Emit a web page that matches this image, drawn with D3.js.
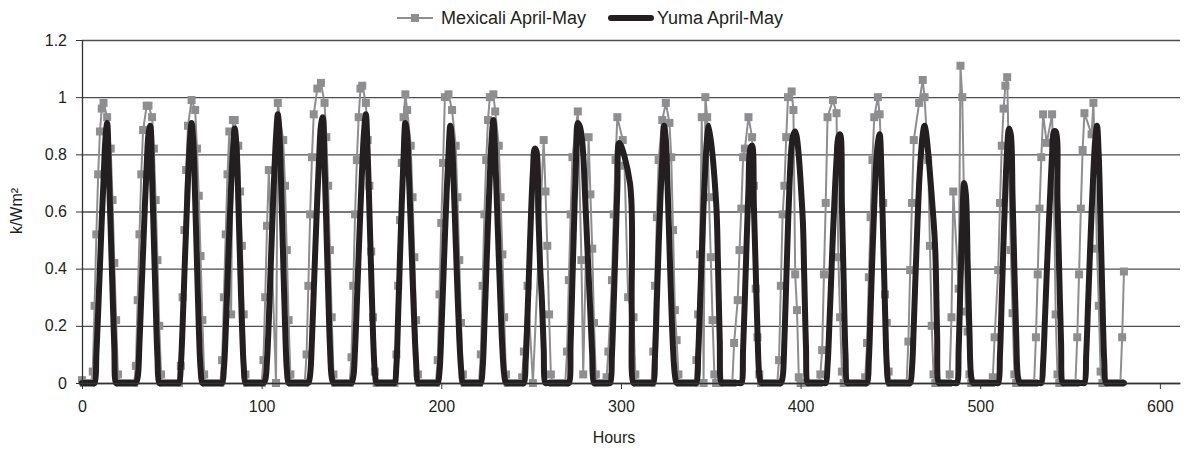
<!DOCTYPE html>
<html>
<head>
<meta charset="utf-8">
<script src="https://cdn.jsdelivr.net/npm/d3@7"></script>
<style>
  body { margin: 0; background: #fff; }
  text { font-family: "Liberation Sans", Arial, sans-serif; fill: #231f20; }
</style>
</head>
<body>
<div id="chart"></div>
<script>
// legend names
var seriesNames = ["Mexicali April-May", "Yuma April-May"];

// axis ticks
var xTicks = [0, 100, 200, 300, 400, 500, 600];
var yTicks = [0, 0.2, 0.4, 0.6, 0.8, 1, 1.2];
var yTickLabels = ["0", "0.2", "0.4", "0.6", "0.8", "1", "1.2"];

// Mexicali readings, one row of 24 hours per day (null = no reading)
var mexicali = [
  [0.01,0,0,0,0,0, 0.04,0.27,0.52,0.73,0.88,0.96, 0.98,null,0.93,null, 0.82,0.64,0.42,0.22,0.03, 0,0,0],
  [0,0,0,0,0,0, 0.06,0.29,0.52,0.73,0.885, null,0.97,0.97,null,0.93, 0.82,0.64,0.43,0.20,0.03, 0,0,0],
  [0,0,0,0,0,0,0, 0.06,0.30,0.535,0.745,0.90, null,0.99,null,0.955, 0.82,0.655,0.444,0.22,0.03, 0,0,0],
  [0,0,0,0,0,0, 0.08,0.30,0.52,0.73,0.88, 0.24, 0.92,0.92, null, 0.83,0.67,0.48,0.24,0.03, 0,0,0,0],
  [0,0,0,0,0, 0.08,0.30,0.55,0.745, null,null,null, 0, 0.98, null,null, 0.85,0.69,0.465,0.22,0.03, 0,0,0],
  [0,0,0,0,0, 0.10,0.34,0.59,0.79,0.94, null,1.03,null,1.05,null,0.98, 0.86,0.69,0.465,0.23,0.03, 0,0,0],
  [0,0,0,0,0,0, 0.09,0.34,0.59,0.78,0.93, 1.03,1.04,null,0.98, 0.85,0.69,0.46,0.23,0.04, 0,0,0,0],
  [0,0,0,0,0,0,0, 0.10,0.34,0.57,0.77,0.93, 1.01,0.955,null, 0.83,0.65,0.44,0.22,0.03, 0,0,0,0],
  [0,0,0,0,0,0, 0.08,0.31,0.56,0.77,1.0, null,1.01,null,0.955,null, 0.83,0.65,0.43,0.21,0.03, 0,0,0],
  [0,0,0,0,0,0, 0.10,0.34,0.59,0.78,0.92, 1.0,null,1.01,0.95,null, 0.83,0.65,0.45,0.23,0.03, 0,0,0],
  [0,0,0,0,0, 0.02,0.11,null,0.34,null,null, 0, null,null,null,null,null, 0.85,0.67,0.48,0.24,0.03, 0,0],
  [0,0,0,0,0,0, 0.11,0.36,0.59,0.79, null,null, 0.95, null, 0.43,0.03, null,null, 0.86,0.66,0.47,0.21,0.03, 0],
  [0,0,0,0, 0.02,0.11,null,0.36,0.59,0.78,0.93, null,null, 0.85,0.76, null, 0.30, null,null, 0.23,0.03, 0,0,0],
  [0,0,0,0,0,0, 0.11,0.34,0.58,0.78, null,0.92,null,0.98,null,0.91, 0.79,0.535,0.255,0.15,0.03, 0,0,0],
  [0,0,0,0,0,0, 0.08,0.24,0.45,0.93, 0, 1.0,0.93,0.65,0.44,0.22,0.03, 0,0,0,0,0,0,0],
  [0,0,0, 0.14,null,0.29,0.465,0.61,0.79,0.82, null,0.93,null,0.86, 0.69,0.33,0.16,0.03, 0,0,0,0,0,0],
  [0,0,0,0, 0.08,0.34,0.59,0.69,0.86,1.0, null,1.02,0.955, 0.38,0.255,0.02, 0,0,0,0,0,0,0,0],
  [0,0,0, 0.03,0.115,0.38,0.63,0.93, null,null, 0.99, null, 0.944, 0.44,0.23,0.04, 0,0,0,0,0,0,0,0],
  [0,0,0,0, 0.02,0.14,0.37,0.58,0.78,0.93, null,1.0,0.94,null, 0.63,0.31,0.21,0.04, 0,0,0,0,0,0],
  [0,0,0,0, 0.145,0.395,0.63,0.85, null,null, 0.98, null, 1.06,1.0, null, 0.78,0.48,0.2,0.03, 0,0,0,0,0],
  [0,0,0, 0.03,0.23,0.67, null,null, 0.33,1.11,1.0, null, 0.25,0.18,0.03, 0,0,0,0,0,0,0,0,0],
  [0,0,0, 0.02,0.16,null,0.395,0.63,0.83,0.96,1.04,1.07, null, 0.465,0.244,0.03, 0,0,0,0,0,0,0,0],
  [0,0,0, 0.16,0.38,0.61,0.79,0.94, null, 0.84, null,null, 0.94,0.67,0.24,0.03, 0,0,0,0,0,0,0,0],
  [0,0, 0.16,0.38,0.61,0.815,0.944, null,null,null, 0.87,0.98, null, 0.47,0.27,0.04, 0,0,0,0,0,0,0,0],
  [0,0,0,0.16,0.39]
].flat();

// Yuma readings, one row of 24 hours per day (null = no reading)
var yuma = [
  [0,0,0,0,0,0,0,0, 0.1,0.25,0.41,0.57,0.71,0.85,0.91,0.73,0.53,0.32,0.12, 0,0,0,0,0],
  [0,0,0,0,0,0,0, 0.02,0.14,0.3,0.46,0.62,0.76,0.87,0.9,0.72,0.5,0.28,0.09, 0,0,0,0,0],
  [0,0,0,0,0,0,0, 0.06,0.2,0.38,0.55,0.71,0.84,0.91,0.84,0.64,0.42,0.2,0.05, 0,0,0,0,0],
  [0,0,0,0,0,0,0, 0.05,0.18,0.36,0.53,0.69,0.81,0.89,0.83,0.64,0.42,0.21,0.06, 0,0,0,0,0],
  [0,0,0,0,0,0, 0.01,0.08,0.22,0.4,0.57,0.73,0.86,0.94,0.86,0.66,0.43,0.21,0.05, 0,0,0,0,0],
  [0,0,0,0,0,0,0, 0.03,0.15,0.32,0.49,0.65,0.79,0.9,0.93,0.77,0.55,0.33,0.13,0.02, 0,0,0,0],
  [0,0,0,0,0,0,0, 0.02,0.12,0.28,0.45,0.61,0.76,0.88,0.94,0.81,0.6,0.38,0.17,0.04, 0,0,0,0],
  [0,0,0,0,0,0,0, 0.06,0.24,0.44,0.63,0.79,0.91,0.87,0.72,0.55,0.37,0.2,0.07, 0,0,0,0,0],
  [0,0,0,0,0,0,0, 0.04,0.17,0.34,0.51,0.67,0.8,0.9,0.84,0.68,0.5,0.32,0.16,0.05, 0,0,0,0],
  [0,0,0,0,0,0,0, 0.05,0.2,0.38,0.56,0.72,0.85,0.92,0.8,0.62,0.44,0.27,0.12,0.03, 0,0,0,0],
  [0,0,0,0,0,0,0, 0.08,0.24,0.42,0.6,0.74,0.82,0.81,0.6,0.41,0.29,0.12, 0,0,0,0,0,0],
  [0,0,0,0,0,0,0,0, 0.14,0.36,0.58,0.78,0.91,0.9,0.87,0.8,0.66,0.52,0.38,0.24,0.1, 0,0,0],
  [0,0,0,0,0,0,0, 0.1,0.28,0.48,0.68,0.84, null,null,null,null,null, 0.7,0.25, 0,0,0,0,0],
  [0,0,0,0,0,0,0, 0.1,0.29,0.48,0.65,0.78,0.9,0.85,0.68,0.48,0.28,0.12,0.03, 0,0,0,0,0],
  [0,0,0,0,0,0,0, 0.1,0.27,0.45,0.62,0.76,0.86,0.9, null,null,null, 0.63,0.42,0.15, 0,0,0,0],
  [0,0,0,0,0,0,0,0, 0.12,0.3,0.5,0.68,0.82,0.83,0.62,0.4,0.18,0.03, 0,0,0,0,0,0],
  [0,0,0,0,0,0, 0.02,0.15,0.35,0.55,0.72,0.83,0.87,0.88, null,null,null, 0.6,0.38,0.13, 0,0,0,0],
  [0,0,0,0,0,0,0, 0.06,0.2,0.36,0.52,0.66,0.78,0.86,0.87,0.62,0.35,0.1, 0,0,0,0,0,0],
  [0,0,0,0,0,0, 0.08,0.26,0.45,0.62,0.76,0.84,0.87,0.74,0.5,0.26,0.06, 0,0,0,0,0,0,0],
  [0,0,0,0,0,0, 0.05,0.2,0.38,0.55,0.7,0.8,0.87,0.9, null,null,null,null, 0.57,0.46,0.17, 0,0,0],
  [0,0,0,0,0,0,0,0, 0.12,0.35,0.55,0.7,0.66,0.42,0.18,0.02, 0,0,0,0,0,0,0,0],
  [0,0,0,0,0,0,0, 0.1,0.3,0.5,0.68,0.82,0.89,0.87,0.65,0.4,0.17,0.02, 0,0,0,0,0,0],
  [0,0,0,0,0,0,0, 0.07,0.22,0.38,0.53,0.67,0.8,0.88,0.88,0.64,0.38,0.14, 0,0,0,0,0,0],
  [0,0,0,0,0,0,0, 0.1,0.27,0.44,0.6,0.74,0.85,0.9,0.79,0.55,0.3,0.08, 0,0,0,0,0,0],
  [0,0,0,0,0]
].flat();

// set the dimensions and margins of the graph
var margin = {top: 40, right: 6, bottom: 69, left: 82},
    width = 1186 - margin.left - margin.right,
    height = 452 - margin.top - margin.bottom;

var x = d3.scaleLinear().domain([0, 611.2]).range([0, width]);
var y = d3.scaleLinear().domain([0, 1.2]).range([height, 0]);

var svg = d3.select("#chart").append("svg")
    .attr("width", 1186)
    .attr("height", 452);

var g = svg.append("g")
    .attr("transform", "translate(" + margin.left + "," + margin.top + ")");

// horizontal gridlines
g.append("g")
    .attr("class", "grid")
    .call(d3.axisLeft(y).tickValues(yTicks).tickSize(-width).tickFormat(""))
    .call(function(s) {
      s.select(".domain").remove();
      s.selectAll("line").attr("stroke", "#4d4d4d").attr("stroke-width", 1.3);
    });

// series as [hour, value] pairs, skipping missing readings
function toPoints(arr) {
  return arr.map(function(v, i) { return [i, v]; })
            .filter(function(d) { return d[1] !== null; });
}
var mexPts = toPoints(mexicali);
var yumaPts = toPoints(yuma);

var grey = "#8e8e90", black = "#231f20";

// Mexicali line with square markers
g.append("path")
    .datum(mexPts)
    .attr("fill", "none")
    .attr("stroke", grey)
    .attr("stroke-width", 2)
    .attr("d", d3.line()
        .x(function(d) { return x(d[0]); })
        .y(function(d) { return y(d[1]); }));

g.selectAll(".mk")
    .data(mexPts)
  .enter().append("rect")
    .attr("class", "mk")
    .attr("x", function(d) { return x(d[0]) - 4; })
    .attr("y", function(d) { return y(d[1]) - 4; })
    .attr("width", 8)
    .attr("height", 8)
    .attr("fill", grey);

// Yuma smooth thick line
g.append("path")
    .datum(yumaPts)
    .attr("fill", "none")
    .attr("stroke", black)
    .attr("stroke-width", 6)
    .attr("stroke-linejoin", "round")
    .attr("stroke-linecap", "round")
    .attr("d", d3.line()
        .curve(d3.curveCatmullRom.alpha(0.5))
        .x(function(d) { return x(d[0]); })
        .y(function(d) { return y(d[1]); }));

// x axis
g.append("g")
    .attr("transform", "translate(0," + height + ")")
    .call(d3.axisBottom(x).tickValues(xTicks).tickSize(6).tickPadding(12).tickSizeOuter(0))
    .call(function(s) {
      s.select(".domain").attr("stroke", "#333").attr("stroke-width", 1.3);
      s.selectAll("line").attr("stroke", "#333");
      s.selectAll("text").style("font-size", "16px").attr("fill", black);
    });

// y axis
g.append("g")
    .call(d3.axisLeft(y).tickValues(yTicks).tickSize(6).tickPadding(9).tickSizeOuter(0)
        .tickFormat(function(d, i) { return yTickLabels[i]; }))
    .call(function(s) {
      s.select(".domain").attr("stroke", "#333").attr("stroke-width", 1.3);
      s.selectAll("line").attr("stroke", "#333");
      s.selectAll("text").style("font-size", "16px").attr("fill", black);
    });

// axis titles
svg.append("text")
    .attr("x", 614).attr("y", 443)
    .attr("text-anchor", "middle")
    .style("font-size", "16px")
    .text("Hours");

svg.append("text")
    .attr("transform", "translate(22,211) rotate(-90)")
    .attr("text-anchor", "middle")
    .style("font-size", "16px")
    .text("k/Wm²");

// legend
var lg = svg.append("g");
lg.append("line").attr("x1", 397).attr("x2", 433).attr("y1", 18).attr("y2", 18)
    .attr("stroke", grey).attr("stroke-width", 2);
lg.append("rect").attr("x", 411).attr("y", 14).attr("width", 8).attr("height", 8).attr("fill", grey);
lg.append("text").attr("x", 441).attr("y", 24).style("font-size", "18px").text(seriesNames[0]);
lg.append("line").attr("x1", 611).attr("x2", 651).attr("y1", 18).attr("y2", 18)
    .attr("stroke", black).attr("stroke-width", 6).attr("stroke-linecap", "round");
lg.append("text").attr("x", 657).attr("y", 24).style("font-size", "18px").text(seriesNames[1]);
</script>
</body>
</html>
